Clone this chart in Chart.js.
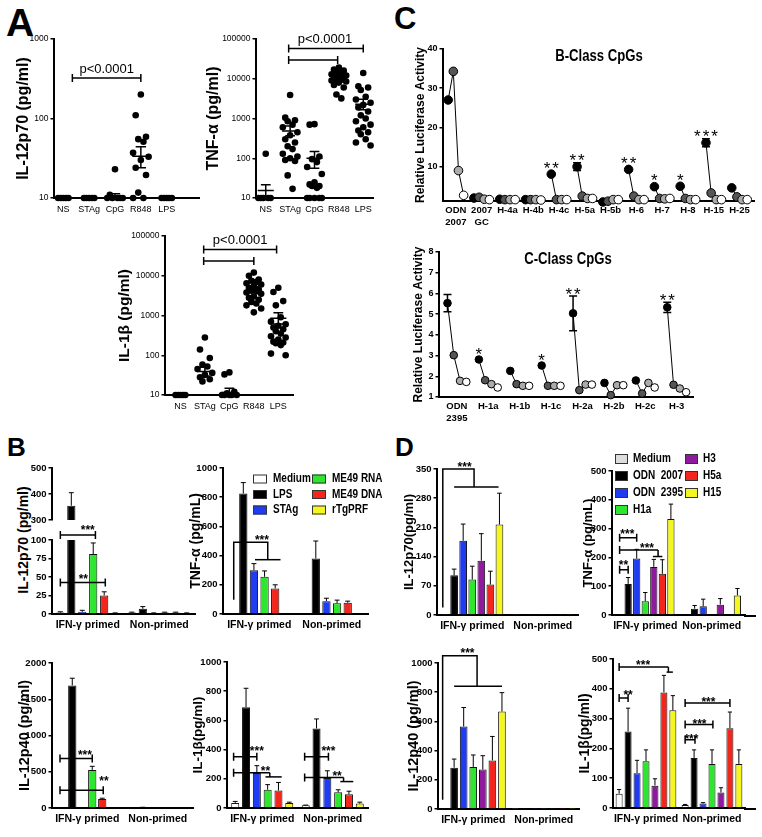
<!DOCTYPE html>
<html lang="en">
<head>
<meta charset="utf-8">
<title>Figure</title>
<script src="https://cdn.jsdelivr.net/npm/chart.js@4.4.1/dist/chart.umd.min.js"></script>
<style>
html,body{margin:0;padding:0;background:#fff}
body{position:relative;width:762px;height:837px;overflow:hidden;font-family:"Liberation Sans",Arial,sans-serif;color:#000}
.pl{position:absolute;font-weight:bold;line-height:1}
.vt{position:absolute;font-weight:bold;white-space:nowrap;transform:translate(-50%,-50%) rotate(-90deg);line-height:1}
</style>
</head>
<body>
<div class="pl" style="left:6px;top:3px;font-size:39px">A</div>
<div class="pl" style="left:394px;top:3px;font-size:31px">C</div>
<div class="pl" style="left:7px;top:434px;font-size:26px">B</div>
<div class="pl" style="left:395px;top:434px;font-size:26px">D</div>
<div class="vt" style="left:23px;top:540px;font-size:14px">IL-12p70 (pg/ml)</div>
<script>
// ================= DATA =================
// Panel A : categories, values per category (pg/ml), mean and SEM
const aCats = ['NS','STAg','CpG','R848','LPS'];
const aTicks3 = [10,100,1000];
const aTicks5 = [10,100,1000,10000,100000];

const a1Vals = [
  [10,10,10,10,10],
  [10,10,10,10,10],
  [23,11,10,10,10,10,10],
  [200,110,59,55,51,37,33,30,24,19.5,11.7,10,10],
  [10,10,10,10,10]
];
const a1Mean = [10,10,10.5,33.5,10];
const a1Hi   = [10,10,11.3,44,10];
const a1Lo   = [10,10,10,24,10];

const a2Vals = [
  [130,10,10,10,10,10],
  [3900,1050,900,850,700,600,450,380,300,250,200,170,130,110,100,90,85,37,17],
  [720,700,110,95,80,60,40,25,22,20,20,18,10,10,10,10,10],
  [19000,17000,16000,15000,14000,13000,12000,11500,11000,10500,10000,9500,9000,8500,8000,7000,6000,4000,3200],
  [14000,6500,6000,5200,3500,3000,2500,2200,1900,1500,1200,1000,850,700,600,500,450,400,300,250,210]
];
const a2Mean = [15.5,488,100,9700,2280];
const a2Hi   = [21.5,650,147,11000,3040];
const a2Lo   = [10,366,56,8600,1650];

const a3Vals = [
  [10,10,10,10,10],
  [280,140,85,58,52,45,36,32,28,25,22],
  [37,33,12,11,10,10,10,10,10],
  [12000,10000,8000,7500,7000,6500,6000,5500,5000,4500,4200,4000,3800,3500,3000,2800,2500,2200,2000,1800,1500,1200],
  [5000,3900,2300,1800,900,700,600,550,500,450,400,350,300,280,250,220,210,200,180,110,100]
];
const a3Mean = [10,39,11.6,4520,850];
const a3Hi   = [10,50,14.8,5400,1170];
const a3Lo   = [10,30,10,3850,610];

// Panel C : relative luciferase activity, 4 points per CpG (black, dark grey, light grey, white)
const cbCats  = [['ODN','2007'],['2007','GC'],'H-4a','H-4b','H-4c','H-5a','H-5b','H-6','H-7','H-8','H-15','H-25'];
const cbVals  = [
  [27,34.3,9,2.7],[2.0,2.2,1.7,1.6],[1.7,1.6,1.6,1.6],[1.6,1.6,1.6,1.5],
  [8.1,1.6,1.6,1.6],[10,2.5,1.9,1.9],[1.0,1.2,1.6,1.6],[9.3,2.5,1.6,1.6],
  [4.9,1.9,1.8,1.9],[5.0,1.9,1.6,1.6],[16.1,3.3,1.6,1.6],[4.6,2.3,1.6,1.6]
];
const cbErr   = [0,0,0,0,0,1.0,0,0,0,0,1.0,0];
const cbStars = ['','','','','**','**','','**','*','*','***',''];
const cbTicks = [10,20,30,40];

const ccCats  = [['ODN','2395'],'H-1a','H-1b','H-1c','H-2a','H-2b','H-2c','H-3'];
const ccVals  = [
  [5.53,3.02,1.78,1.73],[2.81,1.81,1.62,1.46],[2.26,1.62,1.54,1.54],[2.52,1.54,1.54,1.54],
  [5.04,1.33,1.6,1.6],[1.68,1.09,1.57,1.57],[1.8,1.17,1.68,1.46],[5.33,1.59,1.41,1.23]
];
const ccErr   = [0.42,0,0,0,0.84,0,0,0.25];
const ccStars = ['','*','','*','**','','','**'];
const ccTicks = [1,2,3,4,5,6,7,8];

// Panels B and D : grouped bars, values per series [IFN-γ primed, Non-primed]
const barGroups = ['IFN-γ primed','Non-primed'];
const bSeries = ['Medium','LPS','STAg','ME49 RNA','ME49 DNA','rTgPRF'];
const bColors = ['#ffffff','#000000','#1f3cf2','#2ee62e','#f2261c','#f5f51f'];

const b1Vals = [[2,2],[355,7],[3,1],[81,2],[25,2],[1,1]];
const b1Errs = [[1,0.5],[50,3],[2,0.5],[15,0.5],[5,0.5],[0.5,0.5]];
const b1TopTicks = [300,400,500];
const b1Ticks = [0,25,50,75,100];

const b2Vals = [[0,0],[825,380],[300,88],[255,73],[175,77],[0,0]];
const b2Errs = [[0,0],[75,120],[45,20],[40,22],[25,11],[0,0]];
const b2Ticks = [0,200,400,600,800,1000];

const b3Vals = [[0,0],[1690,8],[0,0],[525,0],[125,0],[0,0]];
const b3Errs = [[0,0],[100,2],[0,0],[50,0],[10,0],[0,0]];
const b3Ticks = [0,500,1000,1500,2000];

const b4Vals = [[35,18],[690,545],[240,205],[125,108],[120,95],[35,30]];
const b4Errs = [[10,2],[130,65],[50,50],[35,17],[55,20],[5,10]];
const b4Ticks = [0,200,400,600,800,1000];

const dSeries = ['Medium','ODN  2007','ODN  2395','H1a','H3','H5a','H15'];
const dColors = ['#dcdcdc','#000000','#1f3cf2','#2ee62e','#8e1b9c','#f2261c','#f5f51f'];
const d4Colors = ['#ffffff','#000000','#1f3cf2','#2ee62e','#8e1b9c','#f2261c','#f5f51f'];

const d1Vals = [[1,1],[95,1],[178,1],[85,1],[130,1],[73,1],[217,1]];
const d1Errs = [[0,0],[15,0],[40,0],[32,0],[65,0],[32,0],[75,0]];
const d1Ticks = [0,70,140,210,280,350];

const d2Vals = [[2,2],[108,22],[196,30],[48,2],[167,36],[143,2],[333,68]];
const d2Errs = [[0,0],[22,11],[32,25],[30,0],[26,21],[49,0],[52,24]];
const d2Ticks = [0,100,200,300,400,500];

const d3Vals = [[0,2],[283,2],[565,2],[288,2],[270,2],[333,2],[668,2]];
const d3Errs = [[0,0],[59,0],[130,0],[82,0],[95,0],[164,0],[129,0]];
const d3Ticks = [0,200,400,600,800,1000];

const d4Vals = [[48,10],[257,168],[117,15],[157,148],[75,52],[388,268],[328,148]];
const d4Errs = [[14,2],[78,27],[43,3],[38,47],[23,16],[57,54],[49,47]];
const d4Ticks = [0,100,200,300,400,500];

// ================= STYLE / LAYOUT =================
const SANS = '"Liberation Sans", Arial, sans-serif';
Chart.defaults.font.family = SANS;
Chart.defaults.color = '#000';
Chart.defaults.plugins.legend.display = false;
Chart.defaults.plugins.tooltip.enabled = false;
Chart.defaults.animation = false;

function makeChart(box, cfg, pluginFns) {
  const lh = box.titleSize ? box.titleSize * 1.2 : 0;
  const left = Math.round(box.titleX !== undefined ? box.titleX - lh / 2 : box.L - box.yW);
  const top = Math.round(box.T - box.padT);
  const yW = Math.round(box.L) - left;
  const padT = Math.round(box.T) - top;
  const pw = Math.round(box.R) - Math.round(box.L);
  const ph = Math.round(box.B) - Math.round(box.T);
  const w = yW + pw + box.padR, h = padT + ph + box.xH;
  const cv = document.createElement('canvas');
  cv.width = w; cv.height = h;
  cv.style.cssText = `position:absolute;left:${left}px;top:${top}px;width:${w}px;height:${h}px`;
  document.body.appendChild(cv);
  const off = {x: left, y: top};
  cfg.options.responsive = false;
  cfg.options.animation = false;
  cfg.options.layout = {padding: {top: padT, right: box.padR, left: 0, bottom: box.hideX ? box.xH : 0}};
  cfg.options.scales.y.afterFit = s => { s.width = yW; s.paddingTop = 0; s.paddingBottom = 0; };
  cfg.options.scales.x.afterFit = s => { s.height = box.xH; s.paddingLeft = 0; s.paddingRight = 0; };
  cfg.plugins = pluginFns.map(f => f(off));
  if (box.axisExt) cfg.plugins.push(axisExtF(box.axisExt));
  return new Chart(cv.getContext('2d'), cfg);
}

function yAxis(o) {
  return {
    type: o.type || 'linear', position: 'left', min: o.min, max: o.max,
    afterBuildTicks: s => { s.ticks = o.ticks.map(v => ({value: v})); },
    border: {display: true, color: '#000', width: 2},
    grid: {display: true, drawOnChartArea: false, drawTicks: true, tickLength: 3.5, color: '#000', lineWidth: 1.5},
    ticks: {autoSkip: false, padding: 2, color: '#000',
      font: {family: SANS, size: o.tickSize || 9.5, weight: o.tickWeight || 'bold'},
      callback: v => String(v)},
    title: {display: !!o.title, text: o.title || '', color: '#000', padding: 0,
      font: {family: SANS, size: o.titleSize || 14, weight: 'bold'}}
  };
}

// draws horizontally condensed real text (the reference uses a narrow face)
function narrowText(ctx, s, x, y, sx) {
  ctx.save();
  ctx.translate(x, y);
  ctx.scale(sx, 1);
  ctx.fillText(s, 0, 0);
  ctx.restore();
}

// ---------- plugins ----------
// continues the x axis line a few pixels past the last category (as in the reference)
function axisExtF(ext) {
  return {
    id: 'axisext',
    afterDraw(chart) {
      const ctx = chart.ctx, a = chart.chartArea;
      ctx.save();
      ctx.strokeStyle = '#000'; ctx.lineWidth = 2;
      ctx.beginPath(); ctx.moveTo(a.right - 1, a.bottom + 1); ctx.lineTo(a.right + ext, a.bottom + 1); ctx.stroke();
      ctx.restore();
    }
  };
}

const errPluginF = () => ({
  id: 'errbars',
  afterDatasetsDraw(chart) {
    const ctx = chart.ctx, ys = chart.scales.y, a = chart.chartArea;
    ctx.save();
    ctx.beginPath(); ctx.rect(a.left, a.top - 3, a.right - a.left, a.bottom - a.top + 3); ctx.clip();
    ctx.strokeStyle = '#000'; ctx.lineWidth = 1;
    chart.data.datasets.forEach((ds, i) => {
      const meta = chart.getDatasetMeta(i);
      (ds.errs || []).forEach((e, j) => {
        if (!e) return;
        const el = meta.data[j], v = ds.data[j];
        const y0 = ys.getPixelForValue(v), y1 = ys.getPixelForValue(v + e);
        const hw = Math.max(2, el.width * 0.3);
        ctx.beginPath();
        ctx.moveTo(el.x, y0); ctx.lineTo(el.x, y1);
        ctx.moveTo(el.x - hw, y1); ctx.lineTo(el.x + hw, y1);
        ctx.stroke();
      });
    });
    ctx.restore();
  }
});

function annotF(items) {
  return () => ({
    id: 'annot',
    afterDraw(chart) {
      const ctx = chart.ctx, ys = chart.scales.y;
      const bx = (g, d) => {
        const m0 = chart.getDatasetMeta(0).data[g], m1 = chart.getDatasetMeta(1).data[g];
        return m0.x + d * (m1.x - m0.x);
      };
      ctx.save();
      ctx.strokeStyle = '#000'; ctx.fillStyle = '#000'; ctx.lineWidth = 1.5;
      items.forEach(it => {
        if (it.t === 'br') {
          const x1 = bx(it.g, it.d1), x2 = bx(it.g, it.d2), y = ys.getPixelForValue(it.y);
          ctx.beginPath();
          ctx.moveTo(x1, y); ctx.lineTo(x2, y);
          ctx.moveTo(x1, y - 4); ctx.lineTo(x1, y + 4);
          if (it.capR !== false) { ctx.moveTo(x2, y - 4); ctx.lineTo(x2, y + 4); }
          ctx.stroke();
        } else if (it.t === 'path') {
          ctx.beginPath();
          it.p.forEach((q, k) => {
            const x = bx(it.g, q[0]), y = ys.getPixelForValue(q[1]);
            if (k) ctx.lineTo(x, y); else ctx.moveTo(x, y);
          });
          ctx.stroke();
        } else if (it.t === 'txt') {
          ctx.font = `bold 12px ${SANS}`;
          ctx.textAlign = 'center'; ctx.textBaseline = 'middle';
          ctx.fillText(it.s, bx(it.g, it.d), ys.getPixelForValue(it.y) + 3);
        }
      });
      ctx.restore();
    }
  });
}

function legendF(L) {
  return off => ({
    id: 'legbox',
    afterDraw(chart) {
      const ctx = chart.ctx;
      ctx.save();
      ctx.font = `bold ${L.size}px ${SANS}`;
      ctx.textBaseline = 'middle'; ctx.textAlign = 'left';
      L.cols.forEach((col, ci) => col.forEach((di, ri) => {
        const ds = chart.data.datasets[di];
        const x = L.x[ci] - off.x, y = L.y0 + ri * L.dy - off.y;
        ctx.fillStyle = ds.backgroundColor;
        ctx.fillRect(x, y - L.bh / 2, L.bw, L.bh);
        ctx.strokeStyle = '#333'; ctx.lineWidth = 1;
        ctx.strokeRect(x + 0.5, y - L.bh / 2 + 0.5, L.bw - 1, L.bh - 1);
        ctx.fillStyle = '#000';
        narrowText(ctx, ds.label, x + L.bw + L.gap, y, 0.8);
      }));
      ctx.restore();
    }
  });
}

function aPluginF(mean, hi, lo, brs, ptxt) {
  return () => ({
    id: 'aextra',
    afterDatasetsDraw(chart) {
      const ctx = chart.ctx, xs = chart.scales.x, ys = chart.scales.y;
      ctx.save();
      ctx.strokeStyle = '#000'; ctx.lineWidth = 1.5;
      mean.forEach((m, i) => {
        const x = xs.getPixelForValue(i);
        const dx = xs.getPixelForValue(i + 0.33) - x, cx = xs.getPixelForValue(i + 0.2) - x;
        const ym = ys.getPixelForValue(m), yh = ys.getPixelForValue(hi[i]), yl = ys.getPixelForValue(lo[i]);
        ctx.beginPath();
        ctx.moveTo(x - dx, ym); ctx.lineTo(x + dx, ym);
        ctx.moveTo(x, yh); ctx.lineTo(x, yl);
        ctx.moveTo(x - cx, yh); ctx.lineTo(x + cx, yh);
        ctx.moveTo(x - cx, yl); ctx.lineTo(x + cx, yl);
        ctx.stroke();
      });
      brs.forEach(b => {
        const x1 = xs.getPixelForValue(b.x1), x2 = xs.getPixelForValue(b.x2), y = ys.getPixelForValue(b.y);
        ctx.beginPath();
        ctx.moveTo(x1, y); ctx.lineTo(x2, y);
        ctx.moveTo(x1, y - 4); ctx.lineTo(x1, y + 4);
        ctx.moveTo(x2, y - 4); ctx.lineTo(x2, y + 4);
        ctx.stroke();
      });
      ctx.fillStyle = '#000';
      ctx.font = `13px ${SANS}`;
      ctx.textAlign = 'center'; ctx.textBaseline = 'bottom';
      ctx.fillText(ptxt.s, xs.getPixelForValue(ptxt.x), ys.getPixelForValue(ptxt.y) - 2);
      ctx.restore();
    }
  });
}

function cPluginF(errs, stars, title) {
  return off => ({
    id: 'cextra',
    afterDatasetsDraw(chart) {
      const ctx = chart.ctx, ys = chart.scales.y;
      ctx.save();
      chart.data.datasets.forEach((ds, g) => {
        const p = chart.getDatasetMeta(g).data[0];
        const v = ds.data[0].y;
        let top = p.y - ds.pointRadius;
        const e = errs[g];
        if (e) {
          const y1 = ys.getPixelForValue(v + e), y2 = ys.getPixelForValue(v - e);
          ctx.strokeStyle = '#000'; ctx.lineWidth = 1.5;
          ctx.beginPath();
          ctx.moveTo(p.x, y1); ctx.lineTo(p.x, y2);
          ctx.moveTo(p.x - 4, y1); ctx.lineTo(p.x + 4, y1);
          ctx.moveTo(p.x - 4, y2); ctx.lineTo(p.x + 4, y2);
          ctx.stroke();
          top = Math.min(top, y1);
        }
        if (stars[g]) {
          ctx.fillStyle = '#000';
          ctx.font = `17px ${SANS}`;
          if ('letterSpacing' in ctx) ctx.letterSpacing = '2px';
          ctx.textAlign = 'center'; ctx.textBaseline = 'alphabetic';
          ctx.fillText(stars[g], p.x + 1, top + 4);
          if ('letterSpacing' in ctx) ctx.letterSpacing = '0px';
        }
      });
      ctx.fillStyle = '#000';
      ctx.font = `bold 16px ${SANS}`;
      ctx.textAlign = 'center'; ctx.textBaseline = 'middle';
      narrowText(ctx, title.text, title.x - off.x, title.y - off.y, 0.82);
      ctx.restore();
    }
  });
}

// ---------- builders ----------
function aChart(box, vals, mean, hi, lo, ticks, title, brs, ptxt) {
  const J = [0, -0.2, 0.2, -0.1, 0.1, -0.3, 0.3];
  const pts = [];
  vals.forEach((arr, i) => arr.forEach((v, k) => pts.push({x: i + J[k % J.length], y: v})));
  const cfg = {
    type: 'scatter',
    data: {datasets: [{data: pts, pointRadius: 3.3, pointBackgroundColor: '#000', pointBorderColor: '#000', pointBorderWidth: 0, clip: false}]},
    options: {scales: {
      x: {type: 'linear', min: box.xmin, max: box.xmax,
        afterBuildTicks: s => { s.ticks = aCats.map((c, i) => ({value: i})); },
        grid: {display: false, drawTicks: false}, border: {display: true, color: '#000', width: 2},
        ticks: {autoSkip: false, maxRotation: 0, minRotation: 0, padding: 6, color: '#000', font: {family: SANS, size: 9}, callback: v => aCats[v]}},
      y: yAxis({type: 'logarithmic', min: ticks[0], max: ticks[ticks.length - 1], ticks, title, titleSize: box.titleSize, tickSize: 8.5, tickWeight: 'normal'})
    }}
  };
  return makeChart(box, cfg, [aPluginF(mean, hi, lo, brs, ptxt)]);
}

const cOffsets = [-0.3, -0.1, 0.1, 0.3];
const cPointColors = ['#000000', '#555555', '#ababab', '#ffffff'];
function cChart(box, cats, vals, errs, stars, ticks) {
  const datasets = vals.map((grp, i) => ({
    data: grp.map((v, k) => ({x: i + cOffsets[k], y: v})),
    showLine: true, borderColor: '#000', borderWidth: 1,
    pointBackgroundColor: cPointColors, pointBorderColor: '#000', pointBorderWidth: 1,
    pointRadius: box.radius, clip: false
  }));
  const cfg = {
    type: 'scatter', data: {datasets},
    options: {scales: {
      x: {type: 'linear', min: box.xmin, max: box.xmax,
        afterBuildTicks: s => { s.ticks = cats.map((c, i) => ({value: i})); },
        grid: {display: false, drawTicks: false}, border: {display: true, color: '#000', width: 2},
        ticks: {autoSkip: false, maxRotation: 0, minRotation: 0, padding: 4, color: '#000', font: {family: SANS, size: 9.5, weight: 'bold'}, callback: v => cats[v]}},
      y: yAxis({min: box.ymin, max: ticks[ticks.length - 1], ticks, title: 'Relative Luciferase Activity', titleSize: box.titleSize, tickSize: 9})
    }}
  };
  return makeChart(box, cfg, [cPluginF(errs, stars, box.inner)]);
}

function barChart(box, series, colors, vals, errs, ticks, title, extra) {
  const cfg = {
    type: 'bar',
    data: {labels: barGroups, datasets: series.map((s, i) => ({
      label: s, data: vals[i], errs: errs[i], backgroundColor: colors[i],
      borderColor: '#111', borderWidth: 1, clip: 0,
      barPercentage: box.barPct, categoryPercentage: box.catPct}))},
    options: {scales: {
      x: {type: 'category', offset: true, display: !box.hideX,
        grid: {display: false, drawTicks: false}, border: {display: true, color: '#000', width: 2},
        ticks: {autoSkip: false, maxRotation: 0, minRotation: 0, padding: 5, color: '#000', font: {family: SANS, size: 10.5, weight: 'bold'}}},
      y: yAxis({min: ticks[0], max: ticks[ticks.length - 1], ticks, title, titleSize: box.titleSize})
    }}
  };
  return makeChart(box, cfg, [errPluginF, ...extra]);
}

// ================= PANELS =================
// A
aChart({L:54,T:39,R:199,B:198,titleX:23.3,titleSize:16,padT:14,padR:4,xH:24,xmin:-0.36,xmax:5.25},
  a1Vals, a1Mean, a1Hi, a1Lo, aTicks3, 'IL-12p70 (pg/ml)',
  [{x1:0.35,x2:3.0,y:323}], {s:'p<0.0001',x:1.68,y:323});
aChart({L:256,T:39,R:373,B:198,titleX:213.3,titleSize:16,padT:14,padR:6,xH:24,xmin:-0.4,xmax:4.4},
  a2Vals, a2Mean, a2Hi, a2Lo, aTicks5, 'TNF-α (pg/ml)',
  [{x1:0.94,x2:4,y:58000},{x1:0.94,x2:2.95,y:29500}], {s:'p<0.0001',x:2.43,y:58000});
aChart({L:164.5,T:235.7,R:293,B:395.3,titleX:124,titleSize:15.5,padT:14,padR:6,xH:24,xmin:-0.63,xmax:4.6},
  a3Vals, a3Mean, a3Hi, a3Lo, aTicks5, 'IL-1β (pg/ml)',
  [{x1:0.95,x2:3.93,y:46000},{x1:0.95,x2:3.0,y:23600}], {s:'p<0.0001',x:2.44,y:46000});

// C
cChart({L:443,T:49,R:755,B:201,titleX:420.5,titleSize:12,padT:12,padR:5,xH:34,xmin:-0.5,xmax:11.59,ymin:1.25,radius:4.3,
  inner:{text:'B-Class CpGs',x:599,y:57}}, cbCats, cbVals, cbErr, cbStars, cbTicks);
cChart({L:439.3,T:252.3,R:693,B:396.7,titleX:418.5,titleSize:12,padT:12,padR:5,xH:34,xmin:-0.57,xmax:7.52,ymin:1,radius:3.8,
  inner:{text:'C-Class CpGs',x:568,y:260}}, ccCats, ccVals, ccErr, ccStars, ccTicks);

// B
barChart({L:51.7,T:468.3,R:195,B:528.3,yW:40,padT:10,padR:4,xH:8,hideX:true,catPct:0.92,barPct:0.75},
  bSeries, bColors, b1Vals, b1Errs, b1TopTicks, '', []);
barChart({L:51.7,T:540,R:195,B:614.3,yW:40,padT:80,padR:4,xH:24,catPct:0.92,barPct:0.75},
  bSeries, bColors, b1Vals, b1Errs, b1Ticks, '', [annotF([
    {t:'br',g:0,d1:0,d2:3.2,y:106.7},{t:'txt',g:0,d:2.5,y:116,s:'***'},
    {t:'br',g:0,d1:0,d2:4.1,y:42.6},{t:'txt',g:0,d:2.1,y:51,s:'**'}
  ])]);
barChart({L:222.7,T:468.3,R:368,B:614.3,titleX:196.7,titleSize:14,padT:10,padR:22,xH:24,catPct:0.88,barPct:0.78},
  bSeries, bColors, b2Vals, b2Errs, b2Ticks, 'TNF-α (pg/mL)', [annotF([
    {t:'path',g:0,p:[[0.1,98],[0.1,491],[3.3,491],[3.3,372]]},
    {t:'path',g:0,p:[[2.1,372],[4.5,372]]},
    {t:'txt',g:0,d:2.75,y:523,s:'***'}
  ]), legendF({cols:[[0,1,2],[3,4,5]],x:[253,312],y0:479,dy:15.5,bw:14,bh:9,gap:6,size:12.5})]);
barChart({L:51.7,T:663.3,R:193,B:807.7,titleX:25,titleSize:14.5,padT:10,padR:4,xH:24,catPct:0.85,barPct:0.83},
  bSeries, bColors, b3Vals, b3Errs, b3Ticks, 'IL-12p40 (pg/ml)', [annotF([
    {t:'br',g:0,d1:-0.23,d2:3,y:684},{t:'txt',g:0,d:2.27,y:762,s:'***'},
    {t:'br',g:0,d1:-0.23,d2:4.1,y:245},{t:'txt',g:0,d:4.17,y:411,s:'**'}
  ])]);
barChart({L:226.7,T:662.3,R:368,B:807.7,titleX:198.3,titleSize:13.5,padT:10,padR:4,xH:24,catPct:0.92,barPct:0.74},
  bSeries, bColors, b4Vals, b4Errs, b4Ticks, 'IL-1β(pg/ml)', [annotF([
    {t:'br',g:0,d1:-0.15,d2:2.0,y:351},{t:'txt',g:0,d:2.0,y:409,s:'***'},
    {t:'br',g:0,d1:-0.15,d2:3.2,y:241,capR:false},{t:'path',g:0,p:[[3.2,241],[3.2,213]]},
    {t:'path',g:0,p:[[2.8,213],[4.3,213]]},{t:'txt',g:0,d:2.8,y:270,s:'**'},
    {t:'br',g:1,d1:-0.1,d2:2.1,y:351},{t:'txt',g:1,d:2.1,y:409,s:'***'},
    {t:'br',g:1,d1:-0.1,d2:3.5,y:209,capR:false},{t:'path',g:1,p:[[3.5,209],[3.5,181]]},
    {t:'path',g:1,p:[[3.2,181],[4.4,181]]},{t:'txt',g:1,d:2.9,y:232,s:'**'}
  ])]);

// D
barChart({L:436.7,T:469,R:578,B:615.3,titleX:410,titleSize:13,padT:12,padR:4,xH:24,catPct:0.9,barPct:0.85},
  dSeries, dColors, d1Vals, d1Errs, d1Ticks, 'IL-12p70(pg/ml)', [annotF([
    {t:'path',g:0,p:[[-0.25,18],[-0.25,350],[3.2,350],[3.2,307]]},
    {t:'path',g:0,p:[[1,307],[5.9,307]]},
    {t:'txt',g:0,d:2.15,y:361,s:'***'}
  ])]);
barChart({L:611.7,T:470.7,R:745,B:615.3,titleX:588.3,titleSize:13,padT:22,padR:14,xH:24,catPct:0.9,barPct:0.85,axisExt:11},
  dSeries, dColors, d2Vals, d2Errs, d2Ticks, 'TNF-α (pg/mL)', [annotF([
    {t:'br',g:0,d1:0,d2:2,y:268},{t:'txt',g:0,d:0.9,y:289,s:'***'},
    {t:'br',g:0,d1:0,d2:4.5,y:226,capR:false},{t:'path',g:0,p:[[4.5,226],[4.5,203]]},
    {t:'path',g:0,p:[[3.9,203],[5.0,203]]},{t:'txt',g:0,d:3.2,y:240,s:'***'},
    {t:'br',g:0,d1:0,d2:1,y:157},{t:'txt',g:0,d:0.45,y:180,s:'**'}
  ]), legendF({cols:[[0,1,2,3],[4,5,6]],x:[615,685],y0:459,dy:17,bw:13,bh:10,gap:5,size:12.5})]);
barChart({L:438.3,T:663.3,R:579,B:809.3,titleX:413.3,titleSize:14.5,padT:22,padR:4,xH:24,catPct:0.95,barPct:0.8},
  dSeries, dColors, d3Vals, d3Errs, d3Ticks, 'IL-12p40 (pg/ml)', [annotF([
    {t:'path',g:0,p:[[-0.2,64],[-0.2,1050],[3.4,1050],[3.4,840]]},
    {t:'path',g:0,p:[[1,840],[6,840]]},
    {t:'txt',g:0,d:2.4,y:1085,s:'***'}
  ])]);
barChart({L:613.3,T:659.3,R:745.3,B:808.3,titleX:585,titleSize:14,padT:12,padR:14,xH:24,catPct:0.95,barPct:0.78,axisExt:11},
  dSeries, d4Colors, d4Vals, d4Errs, d4Ticks, 'IL-1β(pg/ml)', [annotF([
    {t:'br',g:0,d1:0,d2:5.5,y:473,capR:false},{t:'path',g:0,p:[[5.5,473],[5.5,456]]},
    {t:'path',g:0,p:[[5.3,456],[6,456]]},{t:'txt',g:0,d:2.67,y:489,s:'***'},
    {t:'br',g:0,d1:0,d2:1,y:369},{t:'txt',g:0,d:1,y:386,s:'**'},
    {t:'br',g:1,d1:0,d2:5,y:352},{t:'txt',g:1,d:2.6,y:364,s:'***'},
    {t:'br',g:1,d1:0,d2:3.1,y:280},{t:'txt',g:1,d:1.6,y:291,s:'***'},
    {t:'br',g:1,d1:0,d2:1.1,y:229},{t:'txt',g:1,d:0.7,y:240,s:'***'}
  ])]);
</script>
</body>
</html>
